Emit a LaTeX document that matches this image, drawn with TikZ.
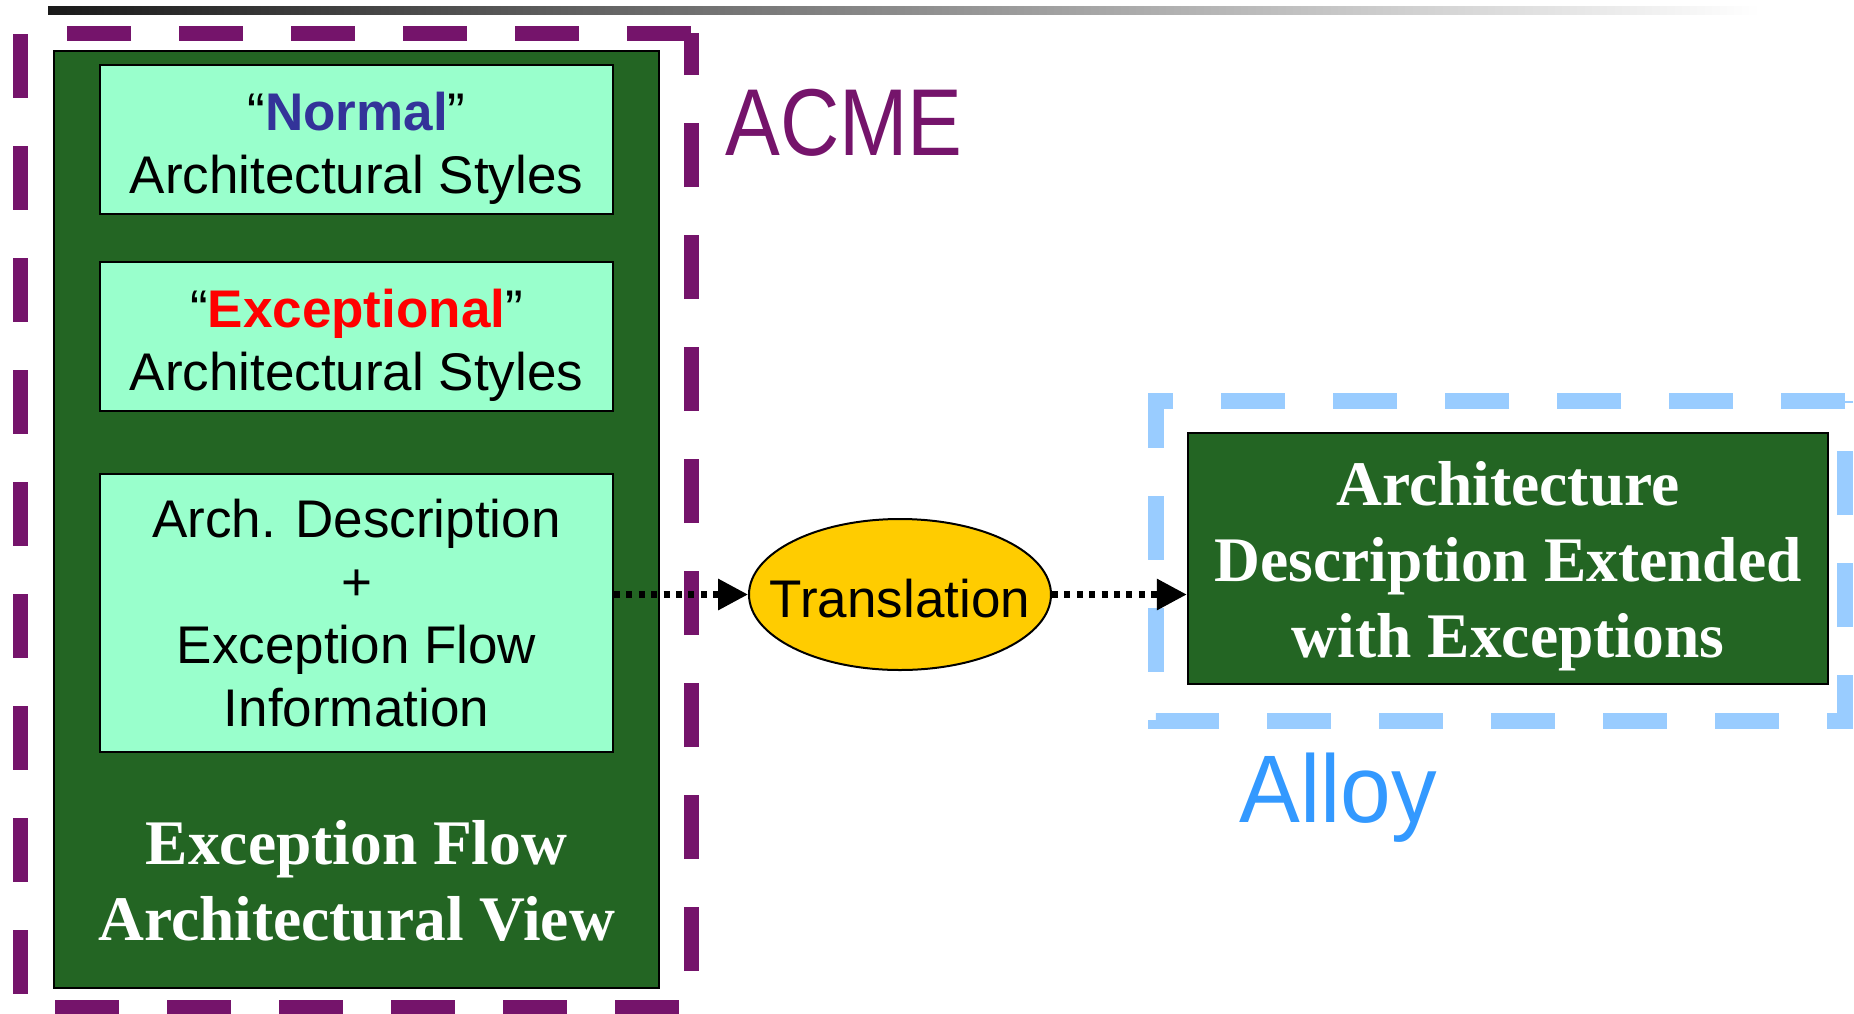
\documentclass[tikz,border=0pt]{standalone}
\usepackage{fontspec}
\usepackage{graphicx}
\usetikzlibrary{shapes.geometric,arrows.meta}
\newfontfamily\sansf{Liberation Sans}
\newfontfamily\seriff{Liberation Serif}
\definecolor{acmepurple}{RGB}{117,20,107}
\definecolor{alloyblue}{RGB}{51,153,255}
\definecolor{alloydash}{RGB}{153,204,255}
\definecolor{darkgreen}{RGB}{35,101,35}
\definecolor{mint}{RGB}{153,255,204}
\definecolor{gold}{RGB}{255,204,0}
\definecolor{normalblue}{RGB}{51,51,153}
\definecolor{barstart}{RGB}{26,26,26}
\tikzset{
  mintbox/.style={draw=black, line width=1pt, fill=mint, inner sep=0pt,
    minimum width=256.5pt, align=center,
    font=\sansf\fontsize{26.5pt}{31.5pt}\selectfont},
  greenbox/.style={draw=black, line width=1.25pt, fill=darkgreen, inner sep=0pt},
  whitetitle/.style={text=white, align=center, inner sep=0pt,
    font=\seriff\bfseries\fontsize{31.75pt}{38pt}\selectfont},
  frameline/.style={draw=#1, line width=7.5pt, dash pattern=on 32pt off 24pt, line join=miter},
  flowarrow/.style={line width=3.2pt, dash pattern=on 3pt off 3.2pt,
    -{Triangle[length=15pt,width=15pt]}},
  biglabel/.style={anchor=base west, inner sep=0pt,
    font=\sansf\fontsize{47.5pt}{50pt}\selectfont}
}
\begin{document}
\begin{tikzpicture}[x=0.5pt,y=-0.5pt]
\useasboundingbox (0,0) rectangle (1854,1013);
% top gradient bar
\fill[left color=barstart, right color=white] (48,6) rectangle (1760,14);
% ACME frame
\draw[frameline=acmepurple] (691,33) -- (20,33) -- (20,1007) -- (691,1007) -- cycle;
% Alloy frame
\draw[frameline=alloydash, line width=8pt] (1845,401) -- (1156,401) -- (1156,721) -- (1845,721) -- cycle;
% big green view box
\node[greenbox, minimum width=302.5pt, minimum height=468.5pt] (view) at (356.5,519.5) {};
\node[mintbox, minimum height=74.5pt] (box1) at (356.5,139.5)
  {\rule{0pt}{27.6pt}“\textbf{\textcolor{normalblue}{Normal}}”\\Architectural Styles};
\node[mintbox, minimum height=74.5pt] (box2) at (356.5,336.5)
  {\rule{0pt}{27.6pt}“\textbf{\textcolor{red}{Exceptional}}”\\Architectural Styles};
\node[mintbox, minimum height=139pt] (box3) at (356.5,613)
  {Arch. Description\\+\\Exception Flow\\Information};
\node[whitetitle] (viewtitle) at (356.5,881) {Exception Flow\\Architectural View};
% translation ellipse
\node[ellipse, draw=black, line width=1pt, fill=gold, inner xsep=-16pt, inner ysep=0pt,
  minimum width=151pt, minimum height=75.5pt, text height=22.5pt, text depth=0pt,
  font=\sansf\fontsize{26.5pt}{31.5pt}\selectfont] (trans) at (900,594.5) {Translation};
% result box
\node[greenbox, minimum width=320pt, minimum height=125.5pt, text=white, align=center,
  font=\seriff\bfseries\fontsize{31.75pt}{38pt}\selectfont] (result) at (1508,558.5)
  {\rule{0pt}{30pt}Architecture\\Description Extended\\with Exceptions};
% labels
\node[biglabel, text=acmepurple] (acme) at (725,155) {\scalebox{0.865}[1]{ACME}};
\node[biglabel, text=alloyblue, font=\sansf\fontsize{48pt}{50pt}\selectfont] (alloy) at (1239,822) {\scalebox{0.95}[1]{Alloy}};
% connectors
\draw[flowarrow] (trans.west -| box3.east) -- (trans.west);
\draw[flowarrow] (trans.east) -- (trans.east -| result.west);
\end{tikzpicture}
\end{document}
